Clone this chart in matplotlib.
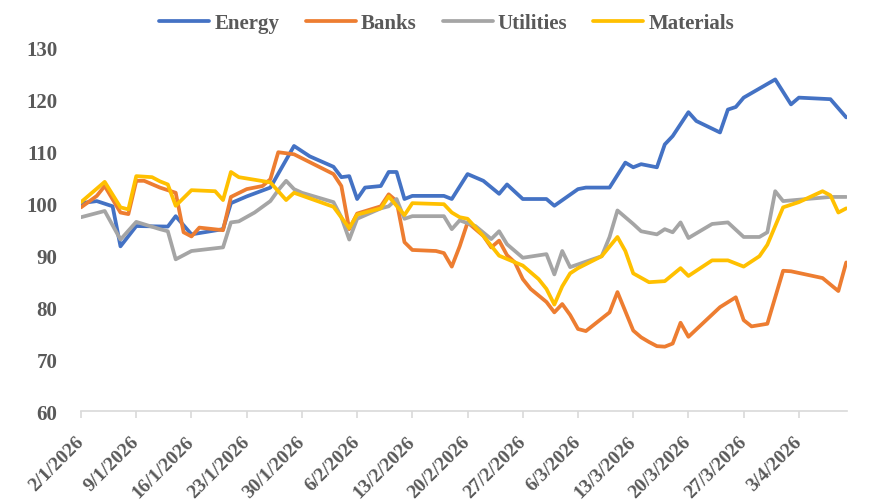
import numpy as np
import pandas as pd
import matplotlib
matplotlib.use("Agg")
import matplotlib.pyplot as plt
from matplotlib.transforms import ScaledTranslation

START = pd.Timestamp("2026-01-02")

# day offsets from 2/1/2026 and index levels
energy_days = [0, 2, 4, 5, 7, 11, 12, 14, 18, 19, 21, 24, 27, 29, 32, 33, 34, 35, 36, 38,
               39, 40, 41, 42, 46, 47, 49, 51, 53, 54, 56, 59, 60, 63, 64, 67, 69, 70, 71,
               73, 74, 75, 77, 78, 81, 82, 83, 84, 88, 90, 91, 95, 97]
energy_vals = [100, 100.4, 99.4, 91.7, 95.6, 95.5, 97.5, 94, 95, 100, 101.3, 103, 111, 109,
               107, 105, 105.2, 100.8, 103, 103.3, 106, 106, 100.8, 101.4, 101.4, 100.8,
               105.6, 104.3, 101.8, 103.6, 100.8, 100.8, 99.5, 102.7, 103, 103, 107.8, 106.9,
               107.5, 106.9, 111.3, 112.9, 117.5, 115.8, 113.6, 118, 118.5, 120.3, 123.8,
               119, 120.3, 120, 116.5]

banks_days = [0, 2, 3, 5, 6, 7, 8, 10, 12, 13, 14, 15, 18, 19, 21, 23, 24, 25, 27, 32, 33,
              34, 35, 38, 39, 40, 41, 42, 45, 46, 47, 48, 49, 51, 52, 53, 54, 55, 56, 57, 59,
              60, 61, 62, 63, 64, 67, 68, 70, 71, 72, 73, 74, 75, 76, 77, 81, 83, 84, 85, 87,
              89, 90, 94, 96, 97]
banks_vals = [99.2, 101.4, 103.3, 98.2, 97.9, 104.3, 104.3, 103, 102, 94.4, 93.6, 95.3, 94.8,
              101.2, 102.7, 103.3, 104.6, 109.8, 109.4, 105.6, 103.3, 95, 98, 99.4, 101.7,
              100.4, 92.5, 91, 90.8, 90.4, 87.8, 91.7, 96.3, 93.7, 91.5, 92.8, 90, 88.6, 85.4,
              83.5, 81, 79, 80.6, 78.5, 75.8, 75.4, 79, 82.9, 75.5, 74.2, 73.3, 72.5, 72.4,
              73, 77, 74.3, 80, 81.9, 77.5, 76.3, 76.8, 87, 86.9, 85.6, 83.1, 88.6]

utilities_days = [0, 3, 5, 7, 10, 11, 12, 14, 18, 19, 20, 22, 24, 25, 26, 27, 28, 32, 33, 34,
                  35, 38, 39, 40, 41, 42, 46, 47, 48, 50, 52, 53, 54, 56, 59, 60, 61, 62, 66,
                  67, 68, 70, 71, 73, 74, 75, 76, 77, 80, 82, 84, 86, 87, 88, 89, 92, 95, 97]
utilities_vals = [97.3, 98.5, 93, 96.4, 95, 94.6, 89.2, 90.8, 91.5, 96.3, 96.5, 98.2, 100.4,
                  102.5, 104.3, 102.7, 102, 100.2, 97.3, 93, 97, 99, 99.4, 100.8, 97, 97.5,
                  97.5, 95, 96.7, 95.6, 93.1, 94.6, 92.1, 89.5, 90.2, 86.3, 90.8, 87.7, 89.8,
                  93.5, 98.6, 96, 94.6, 94, 95, 94.4, 96.3, 93.3, 96, 96.3, 93.5, 93.5, 94.4,
                  102.3, 100.4, 100.8, 101.2, 101.2]

materials_days = [0, 3, 5, 6, 7, 9, 10, 11, 12, 14, 17, 18, 19, 20, 24, 26, 27, 32, 34, 35,
                  38, 39, 41, 42, 46, 47, 48, 49, 51, 53, 56, 58, 59, 60, 61, 62, 63, 66, 68,
                  69, 70, 72, 74, 76, 77, 80, 82, 84, 86, 87, 89, 91, 94, 95, 96, 97]
materials_vals = [100.2, 104.1, 99.2, 98.8, 105.2, 105, 104.2, 103.6, 99.5, 102.5, 102.3,
                  100.6, 106, 105, 104, 100.6, 102, 99.3, 95.2, 97.8, 99, 101.3, 97.7, 100,
                  99.8, 98.2, 97.3, 97, 93.7, 89.9, 88, 85.4, 83.5, 80.5, 84, 86.5, 87.5, 89.8,
                  93.5, 90.8, 86.5, 84.8, 85, 87.5, 86, 89, 89, 87.8, 89.8, 92, 99.2, 100.2,
                  102.3, 101.5, 98.2, 99]

tick_labels = ["2/1/2026", "9/1/2026", "16/1/2026", "23/1/2026", "30/1/2026", "6/2/2026",
               "13/2/2026", "20/2/2026", "27/2/2026", "6/3/2026", "13/3/2026", "20/3/2026",
               "27/3/2026", "3/4/2026"]
y_ticks = [60, 70, 80, 90, 100, 110, 120, 130]

series = [
    ("Energy", energy_days, energy_vals, "#4472C4"),
    ("Banks", banks_days, banks_vals, "#ED7D31"),
    ("Utilities", utilities_days, utilities_vals, "#A5A5A5"),
    ("Materials", materials_days, materials_vals, "#FFC000"),
]

plt.rcParams["font.family"] = ["Liberation Serif", "DejaVu Serif"]
TXT = "#595959"

fig = plt.figure(figsize=(8.78, 5.02), dpi=100)
ax = fig.add_axes([0.0923, 0.179, 0.8724, 0.725])

for name, days, vals, col in series:
    dates = START + pd.to_timedelta(days, unit="D")
    ax.plot(dates, vals, color=col, lw=2.7, label=name,
            solid_joinstyle="round", solid_capstyle="round")

ax.set_ylim(60, 130)
ax.set_yticks(y_ticks)
ax.set_xlim(START, START + pd.Timedelta(days=97.1))
tick_pos = pd.to_datetime(tick_labels, dayfirst=True)
ax.set_xticks(tick_pos)
ax.set_xticklabels(tick_labels, rotation=45, ha="right", va="center",
                   rotation_mode="anchor")
shift = ScaledTranslation(2 / 100, 0, fig.dpi_scale_trans)
for lab in ax.get_xticklabels():
    lab.set_transform(lab.get_transform() + shift)

for s in ["top", "right", "left"]:
    ax.spines[s].set_visible(False)
ax.spines["bottom"].set_color("#D9D9D9")
ax.spines["bottom"].set_linewidth(1.2)
ax.tick_params(axis="y", length=0, pad=17, labelsize=15, labelcolor=TXT)
ax.tick_params(axis="x", length=5, color="#D9D9D9", width=1.2, pad=15,
               labelsize=14, labelcolor=TXT)
for t in ax.get_xticklabels() + ax.get_yticklabels():
    t.set_fontweight("bold")

leg = fig.legend(loc="center", bbox_to_anchor=(0.509, 0.952), ncol=4, frameon=False,
                 handlelength=2.4, handletextpad=0.25, columnspacing=1.25,
                 prop={"size": 15, "weight": "bold"})
for t in leg.get_texts():
    t.set_color(TXT)

fig.savefig("out.png", dpi=100)
